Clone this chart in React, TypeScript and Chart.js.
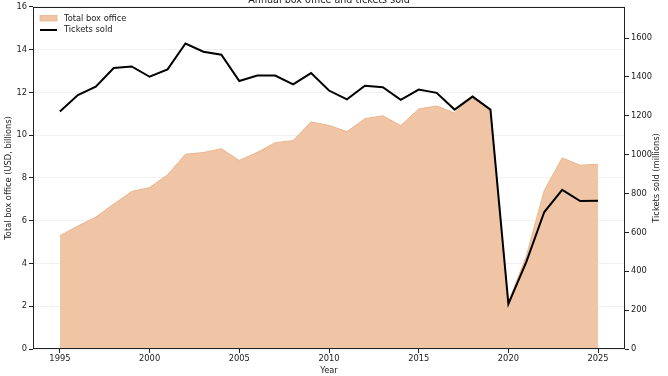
import React, { useEffect, useRef } from "react";
import { Chart, registerables } from "chart.js";

Chart.register(...registerables);

const years = [1995, 1996, 1997, 1998, 1999, 2000, 2001, 2002, 2003, 2004, 2005, 2006, 2007, 2008, 2009, 2010, 2011, 2012, 2013, 2014, 2015, 2016, 2017, 2018, 2019, 2020, 2021, 2022, 2023, 2024, 2025];
const boxOffice = [5.30, 5.75, 6.17, 6.78, 7.37, 7.55, 8.15, 9.11, 9.19, 9.37, 8.82, 9.20, 9.65, 9.75, 10.62, 10.46, 10.17, 10.77, 10.91, 10.45, 11.23, 11.37, 11.04, 11.85, 11.19, 2.20, 4.35, 7.42, 8.94, 8.60, 8.64];
const ticketsSold = [1222, 1307, 1350, 1446, 1454, 1401, 1439, 1572, 1530, 1514, 1379, 1407, 1407, 1362, 1420, 1330, 1285, 1355, 1347, 1282, 1335, 1318, 1232, 1299, 1232, 232, 448, 705, 819, 761, 763];
const xTicks = [1995, 2000, 2005, 2010, 2015, 2020, 2025];
const leftTicks = [0, 2, 4, 6, 8, 10, 12, 14, 16];
const rightTicks = [0, 200, 400, 600, 800, 1000, 1200, 1400, 1600];

const FONT = "'DejaVu Sans', sans-serif";
const AREA_FILL = "#F0C5A5";
const AREA_EDGE = "#EBB48C";
const TEXT = "#222222";

const overlayPlugin = {
  id: "overlay",
  afterDraw(chart: any) {
    const { ctx, chartArea } = chart;
    ctx.save();
    // frame (spines)
    ctx.strokeStyle = "#222222";
    ctx.lineWidth = 1;
    ctx.strokeRect(Math.round(chartArea.left) + 0.5, Math.round(chartArea.top) + 0.5, Math.round(chartArea.right - chartArea.left) - 1, Math.round(chartArea.bottom - chartArea.top) - 1);
    // title (partly cut off at the top)
    ctx.fillStyle = TEXT;
    ctx.font = `9.6px ${FONT}`;
    ctx.textAlign = "center";
    ctx.textBaseline = "alphabetic";
    ctx.fillText("Annual box office and tickets sold", (chartArea.left + chartArea.right) / 2, 3);
    // right axis title, reading bottom to top
    ctx.save();
    ctx.translate(657, (chartArea.top + chartArea.bottom) / 2);
    ctx.rotate(-Math.PI / 2);
    ctx.font = `8.3px ${FONT}`;
    ctx.textAlign = "center";
    ctx.textBaseline = "middle";
    ctx.fillText("Tickets sold (millions)", 0, 0);
    ctx.restore();
    // legend
    const lx = chartArea.left + 7;
    const ly = chartArea.top;
    ctx.fillStyle = AREA_FILL;
    ctx.fillRect(lx, ly + 8.5, 17, 5.5);
    ctx.strokeStyle = AREA_EDGE;
    ctx.lineWidth = 0.8;
    ctx.strokeRect(lx, ly + 8.5, 17, 5.5);
    ctx.strokeStyle = "#000000";
    ctx.lineWidth = 2;
    ctx.beginPath();
    ctx.moveTo(lx, ly + 23);
    ctx.lineTo(lx + 17, ly + 23);
    ctx.stroke();
    ctx.fillStyle = TEXT;
    ctx.font = `8.3px ${FONT}`;
    ctx.textAlign = "left";
    ctx.textBaseline = "middle";
    ctx.fillText("Total box office", lx + 24, ly + 11.5);
    ctx.fillText("Tickets sold", lx + 24, ly + 23);
    ctx.restore();
  },
};

export default function App() {
  const canvasRef = useRef<HTMLCanvasElement | null>(null);

  useEffect(() => {
    const canvas = canvasRef.current;
    if (!canvas) return;
    const chart = new Chart(canvas, {
      type: "line",
      data: {
        datasets: [
          {
            label: "Tickets sold",
            data: years.map((y, i) => ({ x: y, y: ticketsSold[i] })),
            yAxisID: "y1",
            borderColor: "#000000",
            borderWidth: 2,
            pointRadius: 0,
            fill: false,
            tension: 0,
            order: 0,
          },
          {
            label: "Total box office",
            data: years.map((y, i) => ({ x: y, y: boxOffice[i] })),
            yAxisID: "y",
            borderColor: AREA_EDGE,
            borderWidth: 1,
            backgroundColor: AREA_FILL,
            pointRadius: 0,
            fill: "origin",
            tension: 0,
            order: 1,
          },
        ],
      },
      options: {
        animation: false,
        responsive: false,
        maintainAspectRatio: false,
        layout: { padding: { top: 6, left: 0, right: 0, bottom: 0 } },
        plugins: {
          legend: { display: false },
          title: { display: false },
          tooltip: { enabled: false },
        },
        scales: {
          x: {
            type: "linear",
            min: 1993.5,
            max: 2026.5,
            afterBuildTicks: (scale: any) => {
              scale.ticks = xTicks.map((v) => ({ value: v }));
            },
            afterFit: (scale: any) => {
              scale.height = 27;
            },
            border: { display: false },
            grid: { display: true, drawOnChartArea: false, drawTicks: true, tickLength: 4, tickColor: "#222222" },
            ticks: {
              color: TEXT,
              font: { family: FONT, size: 8.3 },
              padding: 1,
              maxRotation: 0,
              autoSkip: false,
              callback: (v: any) => String(v),
            },
            title: {
              display: true,
              text: "Year",
              color: TEXT,
              font: { family: FONT, size: 8.3 },
              padding: { top: 0, bottom: 0 },
            },
          },
          y: {
            type: "linear",
            position: "left",
            min: 0,
            max: 16,
            afterBuildTicks: (scale: any) => {
              scale.ticks = leftTicks.map((v) => ({ value: v }));
            },
            afterFit: (scale: any) => {
              scale.width = 33;
            },
            border: { display: false },
            grid: { color: "rgba(0,0,0,0.06)", tickLength: 4, tickColor: "#222222", lineWidth: 1 },
            ticks: {
              color: TEXT,
              font: { family: FONT, size: 8.3 },
              padding: 2,
              callback: (v: any) => String(v),
            },
            title: {
              display: true,
              text: "Total box office (USD, billions)",
              color: TEXT,
              font: { family: FONT, size: 8.3 },
              padding: { top: 4, bottom: 0 },
            },
          },
          y1: {
            type: "linear",
            position: "right",
            min: 0,
            max: 1760,
            afterBuildTicks: (scale: any) => {
              scale.ticks = rightTicks.map((v) => ({ value: v }));
            },
            afterFit: (scale: any) => {
              scale.width = 43;
            },
            border: { display: false },
            grid: { drawOnChartArea: false, tickLength: 4, tickColor: "#222222" },
            ticks: {
              color: TEXT,
              font: { family: FONT, size: 8.3 },
              padding: 2,
              callback: (v: any) => String(v),
            },
            title: { display: false },
          },
        },
      },
      plugins: [overlayPlugin],
    });
    return () => chart.destroy();
  }, []);

  return (
    <div style={{ position: "fixed", left: 0, top: 0, width: 668, height: 376, background: "#ffffff" }}>
      <canvas ref={canvasRef} width={668} height={376} style={{ display: "block", width: 668, height: 376 }} />
    </div>
  );
}
